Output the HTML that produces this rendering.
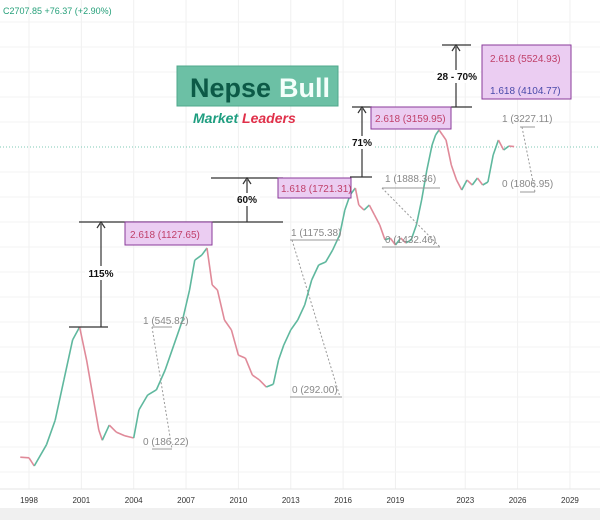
<!DOCTYPE html>
<html><head><meta charset="utf-8"><style>
body{margin:0;background:#fff;}
svg{display:block;font-family:"Liberation Sans",sans-serif;}
</style></head><body>
<svg id="chart" width="600" height="520" viewBox="0 0 600 520">
<rect x="0" y="0" width="600" height="520" fill="#fff"/>
<g id="grid"></g>
<line x1="0" y1="147" x2="600" y2="147" stroke="#7fc9b6" stroke-width="1" stroke-dasharray="1,2"/>
<g id="series"></g>
<rect x="0" y="508" width="600" height="12" fill="#f0f0f0"/>
<line x1="0" y1="489" x2="600" y2="489" stroke="#e6e6e6"/>
<g id="xaxis" font-size="8" fill="#333"></g>
<text x="3" y="14" font-size="9" fill="#26a07a">C2707.85 +76.37 (+2.90%)</text>

<g>
<rect x="177" y="66" width="161" height="40" fill="#6cc0a5" stroke="#4fa88c"/>
<text x="190" y="97" font-size="27" font-weight="bold" fill="#0c5a47">Nepse</text>
<text x="279" y="97" font-size="27" font-weight="bold" fill="#f4fffb">Bull</text>
</g>
<text x="193" y="123" font-size="14" font-weight="bold" font-style="italic"><tspan fill="#1f9e80">Market</tspan> <tspan fill="#e0304a">Leaders</tspan></text>

<g stroke="#333" stroke-width="1.2" fill="none">
<line x1="79" y1="222" x2="283" y2="222"/>
<line x1="69" y1="327" x2="108" y2="327"/>
<line x1="101" y1="327" x2="101" y2="224"/><path d="M97,228 L101,222 L105,228"/>
<line x1="211" y1="178" x2="283" y2="178"/>
<line x1="247" y1="222" x2="247" y2="180"/><path d="M243,184 L247,178 L251,184"/>
<line x1="350" y1="177" x2="372" y2="177"/>
<line x1="352" y1="107" x2="372" y2="107"/>
<line x1="362" y1="177" x2="362" y2="109"/><path d="M358,113 L362,107 L366,113"/>
<line x1="442" y1="45" x2="471" y2="45"/>
<line x1="451" y1="107" x2="472" y2="107"/>
<line x1="456" y1="107" x2="456" y2="47"/><path d="M452,51 L456,45 L460,51"/>
</g>
<g font-size="10" font-weight="bold" fill="#111" text-anchor="middle">
<rect x="85" y="266" width="32" height="14" fill="#fff"/><text x="101" y="277">115%</text>
<rect x="234" y="193" width="26" height="13" fill="#fff"/><text x="247" y="203">60%</text>
<rect x="350" y="136" width="24" height="13" fill="#fff"/><text x="362" y="146">71%</text>
<rect x="434" y="70" width="46" height="13" fill="#fff"/><text x="457" y="80">28 - 70%</text>
</g>

<g font-size="10">
<rect x="125" y="222" width="87" height="23" fill="#ebcdf2" stroke="#8a3a9a"/>
<text x="130" y="238" fill="#c0406a">2.618 (1127.65)</text>
<rect x="278" y="178" width="73" height="20" fill="#ebcdf2" stroke="#8a3a9a"/>
<text x="281" y="192" fill="#c0406a">1.618 (1721.31)</text>
<rect x="371" y="107" width="80" height="22" fill="#ebcdf2" stroke="#8a3a9a"/>
<text x="375" y="122" fill="#c0406a">2.618 (3159.95)</text>
<rect x="482" y="45" width="89" height="54" fill="#ebcdf2" stroke="#8a3a9a"/>
<text x="490" y="62" fill="#c0406a">2.618 (5524.93)</text>
<text x="490" y="94" fill="#4a4aaa">1.618 (4104.77)</text>
</g>

<g font-size="10" fill="#888">
<text x="143" y="324">1 (545.82)</text><text x="143" y="445">0 (186.22)</text>
<text x="291" y="236">1 (1175.38)</text><text x="292" y="393">0 (292.00)</text>
<text x="385" y="182">1 (1888.36)</text><text x="385" y="243">0 (1432.46)</text>
<text x="502" y="122">1 (3227.11)</text><text x="502" y="187">0 (1806.95)</text>
</g>
<g stroke="#999" fill="none">
<line x1="152" y1="327" x2="172" y2="327"/><line x1="152" y1="449" x2="172" y2="449"/>
<line x1="152" y1="327" x2="172" y2="449" stroke-dasharray="2,2"/>
<line x1="290" y1="240" x2="340" y2="240"/><line x1="290" y1="397" x2="342" y2="397"/>
<line x1="292" y1="240" x2="340" y2="397" stroke-dasharray="2,2"/>
<line x1="382" y1="188" x2="440" y2="188"/><line x1="382" y1="247" x2="440" y2="247"/>
<line x1="382" y1="188" x2="440" y2="247" stroke-dasharray="2,2"/>
<line x1="520" y1="127" x2="535" y2="127"/><line x1="520" y1="192" x2="535" y2="192"/>
<line x1="522" y1="127" x2="535" y2="192" stroke-dasharray="2,2"/>
</g>
</svg>
<script>
const years = [1997.5,1998,1998.3,1999,1999.5,2000,2000.5,2000.9,2001.3,2001.7,2002,2002.2,2002.6,2003,2003.5,2004,2004.3,2004.8,2005.3,2005.8,2006.3,2006.8,2007.2,2007.5,2007.9,2008.2,2008.5,2008.8,2009.2,2009.6,2010,2010.4,2010.8,2011.2,2011.6,2012,2012.3,2012.6,2013,2013.4,2013.8,2014.2,2014.6,2015,2015.4,2015.8,2016.1,2016.4,2016.7,2016.9,2017.2,2017.5,2017.8,2018.1,2018.4,2018.7,2019,2019.3,2019.6,2019.9,2020.2,2020.5,2020.8,2021.1,2021.3,2021.5,2021.7,2021.9,2022.2,2022.5,2022.8,2023.1,2023.4,2023.7,2024,2024.3,2024.6,2024.9,2025.2,2025.5,2025.8,2026];
const prices = [173,172,160,193,240,343,489,548,409,287,220,201,230,216,209,205,263,300,314,374,467,583,760,991,1036,1103,795,760,583,534,427,416,358,343,322,330,409,467,534,583,666,831,949,974,1083,1237,1544,1764,1877,1614,1544,1614,1477,1352,1185,1205,1133,1205,1153,1185,1352,1687,2201,2747,3001,3136,3001,2870,2301,2014,1843,2014,1927,2050,1927,1979,2513,2870,2628,2721,2708];
const tickYears = [1998,2001,2004,2007,2010,2013,2016,2019,2023,2026,2029];
const tickLabels = ["1998","2001","2004","2007","2010","2013","2016","2019","2023","2026","2029"];
const gridLevels = [22,47,72,97,122,172,197,222,247,272,297,322,347,372,397,422,447,472];

function xScale(yr){ return 29 + (yr-1998)*17.45; }
function yScale(p){ return 449 - (Math.log10(p) - Math.log10(186))*260; }
const NS="http://www.w3.org/2000/svg";
const grid=document.getElementById('grid');
tickYears.forEach(function(t){
  const l=document.createElementNS(NS,'line');
  l.setAttribute('x1',xScale(t));l.setAttribute('x2',xScale(t));
  l.setAttribute('y1',0);l.setAttribute('y2',489);
  l.setAttribute('stroke','#f0f0f0');
  
  
  grid.appendChild(l);
});
gridLevels.forEach(function(g){
  const l=document.createElementNS(NS,'line');
  l.setAttribute('x1',0);l.setAttribute('x2',600);
  l.setAttribute('y1',g);l.setAttribute('y2',g);
  l.setAttribute('stroke','#f3f3f3');
  
  
  grid.appendChild(l);
});
const xa=document.getElementById('xaxis');
tickYears.forEach(function(t,i){
  const tx=document.createElementNS(NS,'text');
  tx.setAttribute('x',xScale(t));tx.setAttribute('y',503);
  tx.setAttribute('text-anchor','middle');
  tx.textContent=tickLabels[i];
  
  
  xa.appendChild(tx);
});
const s=document.getElementById('series');
for(let i=1;i<prices.length;i++){
  const up=prices[i]>=prices[i-1];
  const l=document.createElementNS(NS,'line');
  l.setAttribute('x1',xScale(years[i-1]));l.setAttribute('y1',yScale(prices[i-1]));
  l.setAttribute('x2',xScale(years[i]));l.setAttribute('y2',yScale(prices[i]));
  l.setAttribute('stroke',up?'#5fb89e':'#e08a99');
  l.setAttribute('stroke-width','1.6');
  
  
  s.appendChild(l);
}
</script>
</body></html>
